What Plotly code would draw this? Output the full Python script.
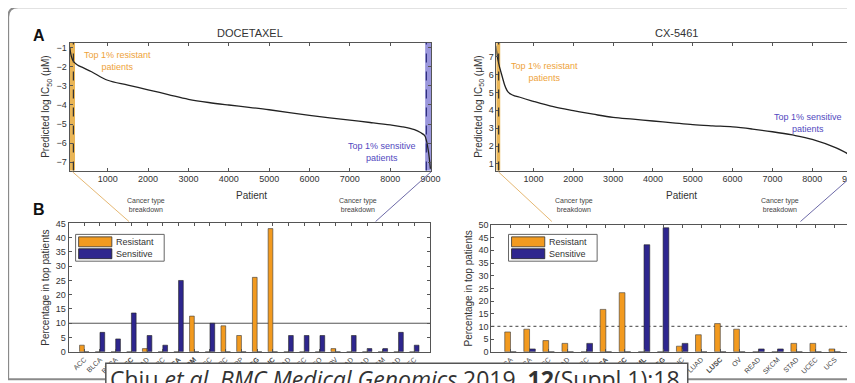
import plotly.graph_objects as go

W, H = 855, 383

# ---------- panel A: predicted log IC50 per patient (sorted) ----------
DOC_PATIENT = [60, 100, 150, 250, 400, 600, 1000, 1500, 2000, 2500, 3000, 3500, 4000,
               4500, 5000, 5500, 6000, 6500, 7000, 7500, 8000, 8300, 8600, 8750, 8850,
               8900, 8950, 8995]
DOC_IC50 = [-0.95, -1.45, -1.7, -1.9, -2.05, -2.25, -2.7, -2.95, -3.2, -3.45, -3.7, -3.87,
            -4.0, -4.12, -4.25, -4.4, -4.55, -4.68, -4.8, -4.92, -5.05, -5.15, -5.3, -5.45,
            -5.6, -5.9, -6.5, -7.35]

CX_PATIENT = [55, 100, 200, 370, 700, 1000, 1500, 2000, 2500, 3000, 3500, 4000, 4500,
              5000, 5500, 6000, 6500, 7000, 7500, 8000, 8600, 8900, 9000, 9060]
CX_IC50 = [7.6, 6.9, 6.0, 5.0, 4.7, 4.5, 4.2, 3.98, 3.78, 3.6, 3.5, 3.4, 3.3, 3.2, 3.13,
           3.07, 2.95, 2.8, 2.62, 2.38, 1.9, 1.55, 1.3, 0.8]

# ---------- panel B: cancer type breakdown (% of top 1% patients) ----------
DOC_TYPES = ["ACC", "BLCA", "BRCA", "CESC", "COAD", "DLBC", "ESCA", "GBM", "HNSC", "KIRC",
             "KIRP", "LGG", "LIHC", "LUAD", "LUSC", "MESO", "OV", "PAAD", "PRAD", "SKCM",
             "STAD", "UCEC"]
DOC_RESISTANT = [2.3, 0, 0, 0, 1.1, 0, 0, 12.5, 0, 9.1, 5.7, 26.1, 43.2, 0, 0, 0, 1.1, 0,
                 0, 0, 0, 0]
DOC_SENSITIVE = [0, 6.8, 4.5, 13.6, 5.7, 2.3, 25.0, 0, 10.0, 0, 0, 0, 0, 5.7, 5.7, 5.7, 0,
                 5.7, 1.1, 1.1, 6.8, 2.3]

CX_TYPES = ["BLCA", "BRCA", "CESC", "COAD", "DLBC", "ESCA", "HNSC", "LAML", "LGG", "LIHC",
            "LUAD", "LUSC", "OV", "READ", "SKCM", "STAD", "UCEC", "UCS"]
CX_RESISTANT = [7.8, 8.9, 4.4, 3.3, 0, 16.7, 23.3, 0, 0, 2.2, 6.7, 11.1, 8.9, 0, 0, 3.3,
                3.3, 1.1]
CX_SENSITIVE = [0, 1.1, 0, 0, 3.3, 0, 0, 42.2, 48.9, 3.3, 0, 0, 0, 1.1, 1.1, 0, 0, 0]

THRESHOLD = 10  # reference line in panel B

ORANGE = "#f29a1f"
BLUE = "#2e268e"
ORANGE_TXT = "#eea23a"
BLUE_TXT = "#5248c0"
BAND_O = "#e9b556"
BAND_B = "#9a96dc"
FONT = "Liberation Sans, Arial, sans-serif"

# the page puts the figure 8px in and shrinks it a bit; work in target pixels
SX = (W + 16) / W
OFF = 8


def px(x):
    return (x * SX - OFF) / W


def py(y):
    return 1 - (y * SX - OFF) / H


def xspan(x0, x1, lo, hi):
    """domain + range for an axis drawn from pixel x0 to x1, clipped to the figure."""
    d0, d1 = px(x0), px(x1)
    if d1 > 1:
        hi = lo + (hi - lo) * (1 - d0) / (d1 - d0)
        d1 = 1
    return dict(domain=[d0, d1], range=[lo, hi])


AXIS = dict(showline=True, linecolor="#555", linewidth=1, mirror="ticks", ticks="inside",
            ticklen=3, tickcolor="#555", showgrid=False, zeroline=False,
            tickfont=dict(size=9, color="#333", family=FONT))

fig = go.Figure()

# waterfall curves
fig.add_trace(go.Scatter(x=DOC_PATIENT, y=DOC_IC50, mode="lines", line_shape="spline",
                         line=dict(color="#222", width=1.3), xaxis="x", yaxis="y",
                         showlegend=False, hoverinfo="skip"))
fig.add_trace(go.Scatter(x=CX_PATIENT, y=CX_IC50, mode="lines", line_shape="spline",
                         line=dict(color="#222", width=1.3), xaxis="x2", yaxis="y2",
                         showlegend=False, hoverinfo="skip"))


def bold_big(types, res, sens):
    out = []
    for t, r, s in zip(types, res, sens):
        out.append(f"<b>{t}</b>" if max(r, s) > THRESHOLD else t)
    return out


# cancer type bars
for types, res, sens, xa, ya in [(DOC_TYPES, DOC_RESISTANT, DOC_SENSITIVE, "x3", "y3"),
                                 (CX_TYPES, CX_RESISTANT, CX_SENSITIVE, "x4", "y4")]:
    fig.add_trace(go.Bar(x=types, y=res, name="Resistant", marker_color=ORANGE,
                         marker_line=dict(color="#3a3a3a", width=0.6),
                         xaxis=xa, yaxis=ya, showlegend=False, hoverinfo="skip"))
    fig.add_trace(go.Bar(x=types, y=sens, name="Sensitive", marker_color=BLUE,
                         marker_line=dict(color="#222", width=0.6),
                         xaxis=xa, yaxis=ya, showlegend=False, hoverinfo="skip"))

shapes = []
annotations = []


def note(text, x, y, size, color, **kw):
    d = dict(text=text, x=px(x), y=py(y), xref="paper", yref="paper", showarrow=False,
             xanchor="center", yanchor="middle",
             font=dict(size=size, color=color, family=FONT))
    d.update(kw)
    annotations.append(d)


# outer frame (rounded top-left corner, runs off the right edge)
shapes.append(dict(
    type="path", xref="paper", yref="paper", layer="above",
    path=(f"M {px(870)},{py(2)} L {px(18)},{py(2)} "
          f"Q {px(8)},{py(2)} {px(8)},{py(12)} L {px(8)},{py(377)} L {px(870)},{py(377)}"),
    line=dict(color="#8a8a8a", width=2),
))

# top-1% bands + dashed cut-offs
for xa, ya, r_end, s_start, x_lo, x_hi in [("x", "y", 190, 8865, 55, 9010),
                                          ("x2", "y2", 165, 8960, 55, 9095)]:
    shapes.append(dict(type="rect", xref=xa, yref=f"{ya} domain", x0=x_lo, x1=r_end,
                       y0=0, y1=1, fillcolor=BAND_O, line_width=0, layer="below"))
    shapes.append(dict(type="rect", xref=xa, yref=f"{ya} domain", x0=s_start, x1=x_hi,
                       y0=0, y1=1, fillcolor=BAND_B, line_width=0, layer="below"))
    shapes.append(dict(type="line", xref=xa, yref=f"{ya} domain", x0=r_end - 40,
                       x1=r_end - 40, y0=0, y1=1, line=dict(color="#333", width=1.2, dash="dash")))
    shapes.append(dict(type="line", xref=xa, yref=f"{ya} domain", x0=s_start + 30,
                       x1=s_start + 30, y0=0, y1=1, line=dict(color="#2b2b7a", width=1.2, dash="dash")))

# threshold lines in panel B
shapes.append(dict(type="line", xref="x3 domain", yref="y3", x0=0, x1=1, y0=THRESHOLD,
                   y1=THRESHOLD, line=dict(color="#555", width=1), layer="below"))
shapes.append(dict(type="line", xref="x4 domain", yref="y4", x0=0, x1=1, y0=THRESHOLD,
                   y1=THRESHOLD, line=dict(color="#666", width=1.2, dash="dot"), layer="below"))

# connectors A -> B
for (x0, y0, x1, y1, c) in [(72, 168, 128, 218, "#e6b873"), (428, 168, 373, 218, "#6d6aa8"),
                            (495, 168, 548, 218, "#e6b873"), (851, 168, 795, 218, "#6d6aa8")]:
    shapes.append(dict(type="line", xref="paper", yref="paper", x0=px(x0), y0=py(y0),
                       x1=px(x1), y1=py(y1), line=dict(color=c, width=1)))

# legends drawn as boxes (wide swatches like the original)
for lx in (75, 505):
    shapes.append(dict(type="rect", xref="paper", yref="paper", x0=px(lx), x1=px(lx + 88),
                       y0=py(231), y1=py(258), fillcolor="white",
                       line=dict(color="#666", width=1)))
    shapes.append(dict(type="rect", xref="paper", yref="paper", x0=px(lx + 3), x1=px(lx + 36),
                       y0=py(233.5), y1=py(243.5), fillcolor=ORANGE,
                       line=dict(color="#333", width=0.8)))
    shapes.append(dict(type="rect", xref="paper", yref="paper", x0=px(lx + 3), x1=px(lx + 36),
                       y0=py(245.5), y1=py(255.5), fillcolor=BLUE,
                       line=dict(color="#222", width=0.8)))
    note("Resistant", lx + 38, 238.5, 9, "#333", xanchor="left")
    note("Sensitive", lx + 38, 250.5, 9, "#333", xanchor="left")

# citation box over the bottom
shapes.append(dict(type="rect", xref="paper", yref="paper", x0=px(105), x1=px(683),
                   y0=py(361), y1=py(400), fillcolor="white", layer="above",
                   line=dict(color="#555", width=1.5)))

# texts
note("<b>A</b>", 39, 31, 16, "#111")
note("<b>B</b>", 39, 206, 16, "#111")
note("DOCETAXEL", 248, 28, 11, "#333")
note("CX-5461", 672, 28, 11, "#333")
note("Patient", 250, 192, 10, "#333")
note("Patient", 677, 192, 10, "#333")
for x in (145, 355, 570, 775):
    note("Cancer type<br>breakdown", x, 201, 7, "#444")
note("Top 1% resistant<br>patients", 117, 56, 9, ORANGE_TXT)
note("Top 1% resistant<br>patients", 541, 67, 9, ORANGE_TXT)
note("Top 1% sensitive<br>patients", 379, 148, 9, BLUE_TXT)
note("Top 1% sensitive<br>patients", 802, 119, 9, BLUE_TXT)

annotations.append(dict(
    text="Chiu <i>et al.</i> <i>BMC Medical Genomics</i> 2019, <b>12</b>(Suppl 1):18",
    x=px(107), y=py(359), xref="paper", yref="paper", xanchor="left", yanchor="top",
    showarrow=False, font=dict(size=23, color="#333", family="Open Sans, sans-serif")))

ic50_title = dict(text="Predicted log IC<sub>50</sub> (μM)", font=dict(size=10, color="#333", family=FONT),
                  standoff=4)
pct_title = dict(text="Percentage in top patients", font=dict(size=10, color="#333", family=FONT),
                 standoff=4)

fig.update_layout(
    width=W, height=H, margin=dict(l=0, r=0, t=0, b=0),
    paper_bgcolor="white", plot_bgcolor="white",
    barmode="group", bargap=0.4, bargroupgap=0,
    font=dict(family=FONT, color="#333"),
    xaxis=dict(AXIS, **xspan(69, 428, 55, 9010), tick0=0, dtick=1000, anchor="y"),
    yaxis=dict(AXIS, domain=[py(166.7), py(37.7)], range=[-7.45, -0.72], dtick=1,
               anchor="x", title=ic50_title),
    xaxis2=dict(AXIS, **xspan(493, 850, 70, 9095), tick0=0, dtick=1000, anchor="y2"),
    yaxis2=dict(AXIS, domain=[py(166.7), py(37.7)], range=[0.63, 7.78], dtick=1,
                anchor="x2", title=ic50_title),
    xaxis3=dict(AXIS, **xspan(68, 427, -1, 22), type="category",
                tickangle=-45, tickvals=DOC_TYPES,
                ticktext=bold_big(DOC_TYPES, DOC_RESISTANT, DOC_SENSITIVE),
                tickfont=dict(size=7, color="#444", family=FONT), anchor="y3"),
    yaxis3=dict(AXIS, domain=[py(349.3), py(220)], range=[0, 45], dtick=5, anchor="x3",
                title=pct_title),
    xaxis4=dict(AXIS, **xspan(488, 848, -1, 18), type="category",
                tickangle=-45, tickvals=CX_TYPES,
                ticktext=bold_big(CX_TYPES, CX_RESISTANT, CX_SENSITIVE),
                tickfont=dict(size=7, color="#444", family=FONT), anchor="y4"),
    yaxis4=dict(AXIS, domain=[py(349.3), py(221.5)], range=[0, 50], dtick=5, anchor="x4",
                title=pct_title),
    shapes=shapes,
    annotations=annotations,
)

fig.write_html("out.html")
